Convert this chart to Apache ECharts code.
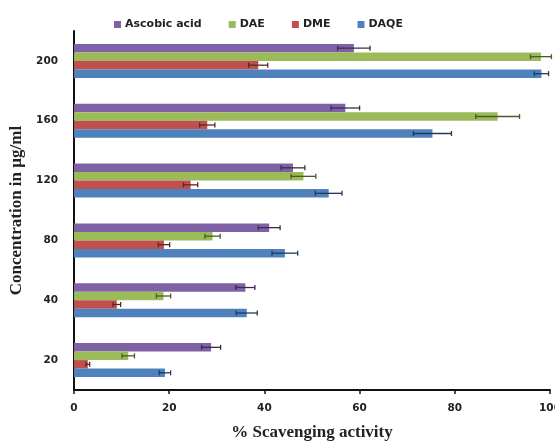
<!DOCTYPE html>
<html><head><meta charset="utf-8">
<script src="https://cdn.jsdelivr.net/npm/echarts@6/dist/echarts.min.js"></script>
<style>html,body{margin:0;padding:0;background:#fff}#c{width:555px;height:444px}</style>
</head><body><div id="c"></div>
<script>
const categories = ['20','40','80','120','160','200'];
const seriesNames = ['Ascobic acid','DAE','DME','DAQE'];
const ascValues  = [28.8, 36.0, 41.0, 46.0, 57.0, 58.8];
const ascErrors  = [2.0, 2.0, 2.3, 2.5, 3.0, 3.4];
const daeValues  = [11.4, 18.8, 29.1, 48.2, 89.0, 98.1];
const daeErrors  = [1.3, 1.5, 1.6, 2.6, 4.6, 2.2];
const dmeValues  = [2.9, 9.0, 18.9, 24.5, 28.0, 38.7];
const dmeErrors  = [0.4, 0.8, 1.2, 1.5, 1.6, 2.0];
const daqeValues = [19.1, 36.3, 44.3, 53.5, 75.3, 98.2];
const daqeErrors = [1.2, 2.2, 2.7, 2.8, 4.0, 1.5];
const xTicks = [0, 20, 40, 60, 80, 100];

const colors = ['#7f62a6', '#9bbb59', '#c0504d', '#4f81bd'];
const errColors = ['#3a2c4c', '#4a5a2a', '#5a2624', '#24395a'];
const values = [ascValues, daeValues, dmeValues, daqeValues];
const errors = [ascErrors, daeErrors, dmeErrors, daqeErrors];
const BW = 8.5;

const chart = echarts.init(document.getElementById('c'), null, {renderer: 'canvas'});
const series = [];
values.forEach((vals, i) => {
  series.push({
    name: seriesNames[i], type: 'bar', data: vals, barWidth: BW, barGap: '0%',
    itemStyle: {color: colors[i]}, z: 2
  });
});
values.forEach((vals, i) => {
  const off = (i - 1.5) * BW;
  series.push({
    type: 'custom', name: seriesNames[i] + ' err', z: 5, silent: true,
    data: vals.map((v, k) => [k, v, errors[i][k]]),
    encode: {x: 1, y: 0},
    renderItem: function (params, api) {
      const cat = api.value(0), v = api.value(1), e = api.value(2);
      const lo = api.coord([v - e, cat]);
      const hi = api.coord([v + e, cat]);
      const y = lo[1] + off;
      const h = 2.5;
      const st = {stroke: errColors[i], lineWidth: 1.3};
      return {type: 'group', children: [
        {type: 'line', shape: {x1: lo[0], y1: y, x2: hi[0], y2: y}, style: st},
        {type: 'line', shape: {x1: lo[0], y1: y - h, x2: lo[0], y2: y + h}, style: st},
        {type: 'line', shape: {x1: hi[0], y1: y - h, x2: hi[0], y2: y + h}, style: st}
      ]};
    }
  });
});

chart.setOption({
  animation: false,
  backgroundColor: '#fff',
  legend: {
    data: seriesNames, left: 109, top: 14, icon: 'rect', itemWidth: 7, itemHeight: 7,
    itemGap: 27,
    textStyle: {fontFamily: 'DejaVu Sans', fontWeight: 'bold', fontSize: 11, color: '#222', padding: [0,0,0,-1]}
  },
  grid: {left: 74, right: 5, top: 31, bottom: 54, containLabel: false, outerBoundsMode: 'none'},
  xAxis: {
    type: 'value', min: 0, max: 100, interval: 20,
    axisLine: {show: true, lineStyle: {color: '#111', width: 2}},
    axisTick: {show: true, length: 4, lineStyle: {color: '#111', width: 1.5}},
    splitLine: {show: false},
    axisLabel: {fontFamily: 'DejaVu Sans', fontWeight: 'bold', fontSize: 10.5, color: '#222', margin: 13,
      formatter: v => xTicks.includes(v) ? String(v) : ''},
    name: '% Scavenging activity', nameLocation: 'middle', nameGap: 34,
    nameTextStyle: {fontFamily: 'Liberation Serif', fontWeight: 'bold', fontSize: 17, color: '#222'}
  },
  yAxis: {
    type: 'category', data: categories,
    axisLine: {show: true, lineStyle: {color: '#111', width: 2}},
    axisTick: {show: false},
    axisLabel: {fontFamily: 'DejaVu Sans', fontWeight: 'bold', fontSize: 10.5, color: '#222', margin: 16},
    name: 'Concentration in µg/ml', nameLocation: 'middle', nameGap: 44,
    nameTextStyle: {fontFamily: 'Liberation Serif', fontWeight: 'bold', fontSize: 17, color: '#222'}
  },
  series: series
});
</script></body></html>
